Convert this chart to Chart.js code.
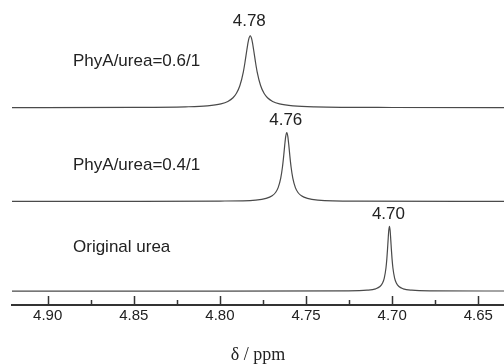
<!DOCTYPE html>
<html>
<head>
    <title>NMR shift</title>
    <style>
        body { margin: 0; background: #fff; }
        canvas { display: block; }
    </style>
</head>
<body>
    <canvas id="nmrChart" width="504" height="364"></canvas>
    <script src="https://cdn.jsdelivr.net/npm/chart.js"></script>
    <script>
        // sample names and the peak label of each trace (bottom to top)
        const sampleNames = ['Original urea', 'PhyA/urea=0.4/1', 'PhyA/urea=0.6/1'];
        const peakLabels = ['4.70', '4.76', '4.78'];
        const traceOffsets = [14, 104, 198];

        const tickValues = [4.90, 4.875, 4.85, 4.825, 4.80, 4.775, 4.75, 4.725, 4.70, 4.675, 4.65];
        const tickLabels = ['4.90', '', '4.85', '', '4.80', '', '4.75', '', '4.70', '', '4.65'];

        // original urea
        const ppmUrea = [4.921, 4.80, 4.7266, 4.7146, 4.7096, 4.7071, 4.7056, 4.7046, 4.7036, 4.7031, 4.7027, 4.7024, 4.702,
            4.7016, 4.7012, 4.7008, 4.7005, 4.7001, 4.6996, 4.6986, 4.6976, 4.6961, 4.6936, 4.6886, 4.6766, 4.635];
        const intUrea = [0, 0, 0.23, 0.85, 2.2, 4.5, 8.0, 13, 23.4, 32.5, 42.3, 50.6, 60.7,
            65, 60.7, 50.6, 42.3, 32.5, 23.4, 13, 8.0, 4.5, 2.2, 0.85, 0.23, 0.03];

        // PhyA/urea = 0.4/1
        const ppm04 = [4.921, 4.85, 4.80, 4.7792, 4.7732, 4.7697, 4.7677, 4.7662, 4.7647, 4.7637, 4.763, 4.7624, 4.7618,
            4.7612, 4.7606, 4.76, 4.7594, 4.7587, 4.7577, 4.7562, 4.7547, 4.7527, 4.7492, 4.7432, 4.72, 4.635];
        const int04 = [0, 0.05, 0.29, 1.3, 2.9, 5.5, 8.9, 13.8, 23.3, 34.5, 45.4, 56.1, 65.2,
            69, 65.2, 56.1, 45.4, 34.5, 23.3, 13.8, 8.9, 5.5, 2.9, 1.3, 0.25, 0.03];

        // PhyA/urea = 0.6/1
        const ppm06 = [4.921, 4.85, 4.82, 4.8074, 4.7994, 4.7954, 4.7924, 4.7904, 4.7884, 4.7864, 4.7854, 4.7844, 4.7834,
            4.7824, 4.7814, 4.7804, 4.7794, 4.7784, 4.7764, 4.7744, 4.7724, 4.7694, 4.7654, 4.7574, 4.745, 4.70, 4.635];
        const int06 = [0.1, 0.25, 0.8, 1.8, 3.8, 6.2, 9.9, 14.4, 22.2, 36, 46.1, 57.6, 67.8,
            72, 67.8, 57.6, 46.1, 36, 22.2, 14.4, 9.9, 6.2, 3.8, 1.8, 0.8, 0.17, 0.05];

        const traces = [[ppmUrea, intUrea], [ppm04, int04], [ppm06, int06]];

        const datasets = traces.map(([ppm, ints], i) => ({
            label: sampleNames[i],
            data: ppm.map((x, k) => ({ x: x, y: ints[k] + traceOffsets[i] })),
            borderColor: '#4a4a4a',
            borderWidth: 1.2,
            pointRadius: 0,
            cubicInterpolationMode: 'monotone',
            fill: false
        }));

        const textFont = '17px "Liberation Sans", Arial, sans-serif';

        // inward tick marks, trace names and peak positions
        const decorations = {
            id: 'decorations',
            afterDatasetsDraw(chart) {
                const ctx = chart.ctx;
                const xs = chart.scales.x;
                const ys = chart.scales.y;
                const area = chart.chartArea;

                ctx.save();
                ctx.strokeStyle = '#333';
                ctx.lineWidth = 1.5;
                tickValues.forEach((v, i) => {
                    const px = Math.round(xs.getPixelForValue(v)) + 0.5;
                    const len = tickLabels[i] ? 9 : 5;
                    ctx.beginPath();
                    ctx.moveTo(px, area.bottom);
                    ctx.lineTo(px, area.bottom - len);
                    ctx.stroke();
                });

                ctx.fillStyle = '#222';
                ctx.font = textFont;
                ctx.textBaseline = 'middle';
                chart.data.datasets.forEach((ds, i) => {
                    let top = ds.data[0];
                    ds.data.forEach(p => { if (p.y > top.y) top = p; });
                    const px = xs.getPixelForValue(top.x);
                    const py = ys.getPixelForValue(top.y);
                    ctx.textAlign = 'center';
                    ctx.fillText(peakLabels[i], px - 1, py - [12, 12, 15][i]);

                    const base = ys.getPixelForValue(traceOffsets[i]);
                    ctx.textAlign = 'left';
                    ctx.fillText(sampleNames[i], area.left + 61, base - [44, 36, 46][i]);
                });
                ctx.restore();
            }
        };

        new Chart(document.getElementById('nmrChart'), {
            type: 'line',
            data: { datasets: datasets },
            options: {
                responsive: false,
                animation: false,
                layout: { padding: { left: 12, right: 0, top: 0, bottom: 0 } },
                plugins: {
                    legend: { display: false },
                    tooltip: { enabled: false }
                },
                scales: {
                    x: {
                        type: 'linear',
                        reverse: true,
                        min: 4.6351,
                        max: 4.9207,
                        afterBuildTicks: axis => {
                            axis.ticks = tickValues.map(v => ({ value: v }));
                        },
                        grid: { display: false, drawTicks: false },
                        border: { display: true, color: '#333', width: 2 },
                        ticks: {
                            autoSkip: false,
                            maxRotation: 0,
                            padding: 1.5,
                            color: '#222',
                            font: { family: '"Liberation Sans", Arial, sans-serif', size: 15 },
                            callback: (value, index) => tickLabels[index]
                        },
                        title: {
                            display: true,
                            text: 'δ / ppm',
                            color: '#222',
                            font: { family: '"Liberation Serif", "Times New Roman", serif', size: 18, lineHeight: 1 },
                            padding: { top: 20, bottom: 0 }
                        }
                    },
                    y: {
                        display: false,
                        min: 0,
                        max: 306
                    }
                }
            },
            plugins: [decorations]
        });
    </script>
</body>
</html>
